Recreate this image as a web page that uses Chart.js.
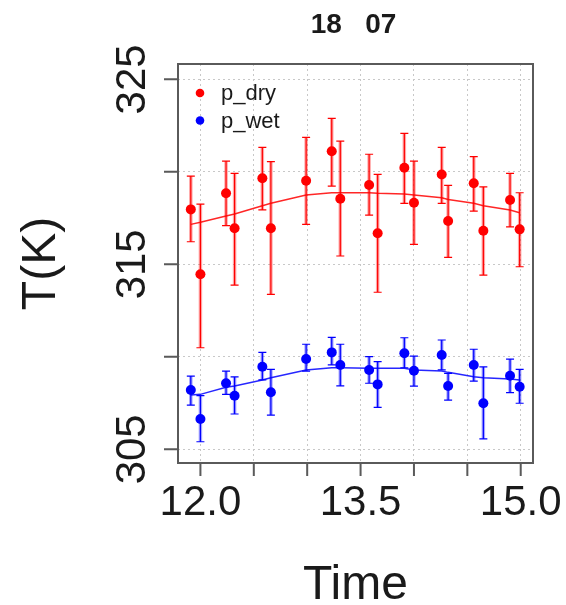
<!DOCTYPE html>
<html>
<head>
<meta charset="utf-8">
<script src="https://cdn.jsdelivr.net/npm/chart.js@4/dist/chart.umd.min.js"></script>
<style>
  html, body { margin: 0; padding: 0; background: #fff; }
  #wrap { width: 566px; height: 605px; }
</style>
</head>
<body>
<div id="wrap"><canvas id="grafico" width="566" height="605"></canvas></div>
<script>
// --- dados ---
const tempos = [11.91, 12.0, 12.24, 12.32, 12.58, 12.66, 12.99, 13.23, 13.31, 13.58,
  13.66, 13.91, 14.0, 14.26, 14.32, 14.56, 14.65, 14.9, 14.99];

const seco = [317.97, 314.46, 318.84, 316.95, 319.65, 316.95, 319.52, 321.11, 318.55, 319.29,
  316.68, 320.22, 318.33, 319.86, 317.34, 319.38, 316.82, 318.48, 316.89];
const secoMax = [319.77, 318.26, 320.58, 319.92, 321.32, 320.55, 321.86, 322.89, 321.66, 320.95,
  319.86, 322.08, 320.58, 321.32, 319.27, 320.82, 319.19, 319.92, 318.87];
const secoMin = [316.22, 310.49, 317.09, 313.88, 317.94, 313.38, 317.16, 319.23, 315.45, 317.66,
  313.49, 318.30, 316.08, 318.30, 315.38, 317.88, 314.42, 317.03, 314.87];
const secoAjuste = [317.16, 317.27, 317.61, 317.72, 318.17, 318.30, 318.75, 318.87, 318.87, 318.87,
  318.84, 318.80, 318.75, 318.60, 318.51, 318.30, 318.17, 317.94, 317.79];

const humido = [308.21, 306.64, 308.57, 307.90, 309.46, 308.08, 309.88, 310.24, 309.56, 309.29,
  308.51, 310.19, 309.25, 310.10, 308.42, 309.56, 307.49, 308.98, 308.38];
const humidoMax = [308.96, 307.90, 309.23, 308.92, 310.24, 309.32, 310.68, 311.05, 310.68, 310.01,
  309.74, 311.03, 310.04, 310.91, 309.11, 310.41, 309.46, 309.88, 309.32];
const humidoMin = [307.39, 305.41, 307.97, 306.91, 308.75, 306.85, 309.23, 309.56, 308.43, 308.57,
  307.27, 309.41, 308.42, 309.29, 307.66, 308.69, 305.56, 308.06, 307.49];
const humidoAjuste = [307.94, 307.97, 308.35, 308.42, 308.75, 308.87, 309.29, 309.41, 309.41, 309.38,
  309.38, 309.38, 309.29, 309.23, 309.16, 308.92, 308.87, 308.80, 308.75];

const ticksX = [12.0, 12.5, 13.0, 13.5, 14.0, 14.5, 15.0];
const rotulosX = [12.0, 13.5, 15.0];
const ticksY = [305, 310, 315, 320, 325];
const rotulosY = [305, 315, 325];
const nomesSeries = ["p_dry", "p_wet"];
const titulo = "18   07";
const tituloX = "Time";
const tituloY = "T(K)";

const vermelho = "#ff0000";
const azul = "#0000ff";
const cinzaCaixa = "#5a5a5a";
const fonte = "'Liberation Sans', Arial, Helvetica, sans-serif";

const pontos = (ys) => tempos.map((t, i) => ({ x: t, y: ys[i] }));

// barras de erro
const barrasErro = {
  id: "barrasErro",
  beforeDatasetsDraw(chart) {
    const { ctx, scales } = chart;
    const sx = scales.x, sy = scales.y;
    const series = [
      { max: secoMax, min: secoMin, cor: vermelho, claro: "rgba(255,0,0,0.35)" },
      { max: humidoMax, min: humidoMin, cor: azul, claro: "rgba(0,0,255,0.35)" },
    ];
    ctx.save();
    ctx.beginPath();
    ctx.rect(chart.chartArea.left, chart.chartArea.top, chart.chartArea.width, chart.chartArea.height);
    ctx.clip();
    series.forEach((s) => {
      tempos.forEach((t, i) => {
        const px = sx.getPixelForValue(t);
        const yTop = sy.getPixelForValue(s.max[i]);
        const yBot = sy.getPixelForValue(s.min[i]);
        ctx.strokeStyle = s.claro;
        ctx.lineWidth = 3.5;
        ctx.beginPath();
        ctx.moveTo(px, yTop);
        ctx.lineTo(px, yBot);
        ctx.stroke();
        ctx.strokeStyle = s.cor;
        ctx.lineWidth = 1.2;
        ctx.beginPath();
        ctx.moveTo(px, yTop);
        ctx.lineTo(px, yBot);
        ctx.moveTo(px - 4, yTop);
        ctx.lineTo(px + 4, yTop);
        ctx.moveTo(px - 4, yBot);
        ctx.lineTo(px + 4, yBot);
        ctx.stroke();
      });
    });
    ctx.restore();
  },
};

// caixa, eixos, títulos e legenda ao estilo R
const moldura = {
  id: "moldura",
  afterDraw(chart) {
    const { ctx, chartArea: a, scales } = chart;
    const sx = scales.x, sy = scales.y;
    ctx.save();

    // caixa
    ctx.strokeStyle = cinzaCaixa;
    ctx.lineWidth = 2;
    ctx.strokeRect(a.left, a.top, a.width, a.height);

    // marcas dos eixos
    ctx.beginPath();
    ticksX.forEach((v) => {
      const px = sx.getPixelForValue(v);
      ctx.moveTo(px, a.bottom);
      ctx.lineTo(px, a.bottom + 13);
    });
    ticksY.forEach((v) => {
      const py = sy.getPixelForValue(v);
      ctx.moveTo(a.left, py);
      ctx.lineTo(a.left - 14, py);
    });
    ctx.stroke();

    ctx.fillStyle = "#1a1a1a";
    ctx.font = `42px ${fonte}`;
    ctx.textAlign = "center";
    ctx.textBaseline = "alphabetic";
    rotulosX.forEach((v) => {
      ctx.fillText(v.toFixed(1), sx.getPixelForValue(v), 515);
    });
    rotulosY.forEach((v) => {
      ctx.save();
      ctx.translate(a.left - 33, sy.getPixelForValue(v));
      ctx.rotate(-Math.PI / 2);
      ctx.fillText(String(v), 0, 0);
      ctx.restore();
    });

    // títulos
    ctx.font = `48px ${fonte}`;
    ctx.fillText(tituloX, (a.left + a.right) / 2, 599);
    ctx.save();
    ctx.translate(55, (a.top + a.bottom) / 2);
    ctx.rotate(-Math.PI / 2);
    ctx.fillText(tituloY, 0, 0);
    ctx.restore();

    ctx.font = `bold 28px ${fonte}`;
    ctx.fillText(titulo, (a.left + a.right) / 2 - 2, 33);

    // legenda
    const cores = [vermelho, azul];
    ctx.font = `22px ${fonte}`;
    ctx.textAlign = "left";
    ctx.textBaseline = "middle";
    nomesSeries.forEach((nome, i) => {
      const y = a.top + 29 + i * 27.5;
      ctx.fillStyle = cores[i];
      ctx.beginPath();
      ctx.arc(a.left + 22, y, 4.3, 0, Math.PI * 2);
      ctx.fill();
      ctx.fillStyle = "#1a1a1a";
      ctx.fillText(nome, a.left + 43, y + 1);
    });

    ctx.restore();
  },
};

const grelha = {
  display: true,
  color: "#c8c8c8",
  lineWidth: 1,
  drawTicks: false,
};

new Chart(document.getElementById("grafico").getContext("2d"), {
  type: "scatter",
  data: {
    datasets: [
      {
        label: nomesSeries[0],
        data: pontos(seco),
        backgroundColor: vermelho,
        borderWidth: 0,
        pointRadius: 5,
      },
      {
        label: nomesSeries[1],
        data: pontos(humido),
        backgroundColor: azul,
        borderWidth: 0,
        pointRadius: 5,
      },
      {
        type: "line",
        label: "ajuste seco",
        data: pontos(secoAjuste),
        borderColor: "rgba(255,0,0,0.85)",
        borderWidth: 1.5,
        pointRadius: 0,
        fill: false,
        tension: 0,
      },
      {
        type: "line",
        label: "ajuste humido",
        data: pontos(humidoAjuste),
        borderColor: "rgba(0,0,255,0.85)",
        borderWidth: 1.5,
        pointRadius: 0,
        fill: false,
        tension: 0,
      },
    ],
  },
  options: {
    responsive: false,
    animation: false,
    devicePixelRatio: 1,
    layout: { padding: { left: 178, top: 64, right: 33, bottom: 142 } },
    plugins: { legend: { display: false }, tooltip: { enabled: false } },
    scales: {
      x: {
        type: "linear",
        min: 11.79,
        max: 15.115,
        afterBuildTicks: (s) => { s.ticks = ticksX.map((v) => ({ value: v })); },
        ticks: { display: false },
        grid: grelha,
        border: { display: false, dash: [2, 3] },
      },
      y: {
        type: "linear",
        min: 304.26,
        max: 325.83,
        afterBuildTicks: (s) => { s.ticks = ticksY.map((v) => ({ value: v })); },
        ticks: { display: false },
        grid: grelha,
        border: { display: false, dash: [2, 3] },
      },
    },
  },
  plugins: [barrasErro, moldura],
});
</script>
</body>
</html>
